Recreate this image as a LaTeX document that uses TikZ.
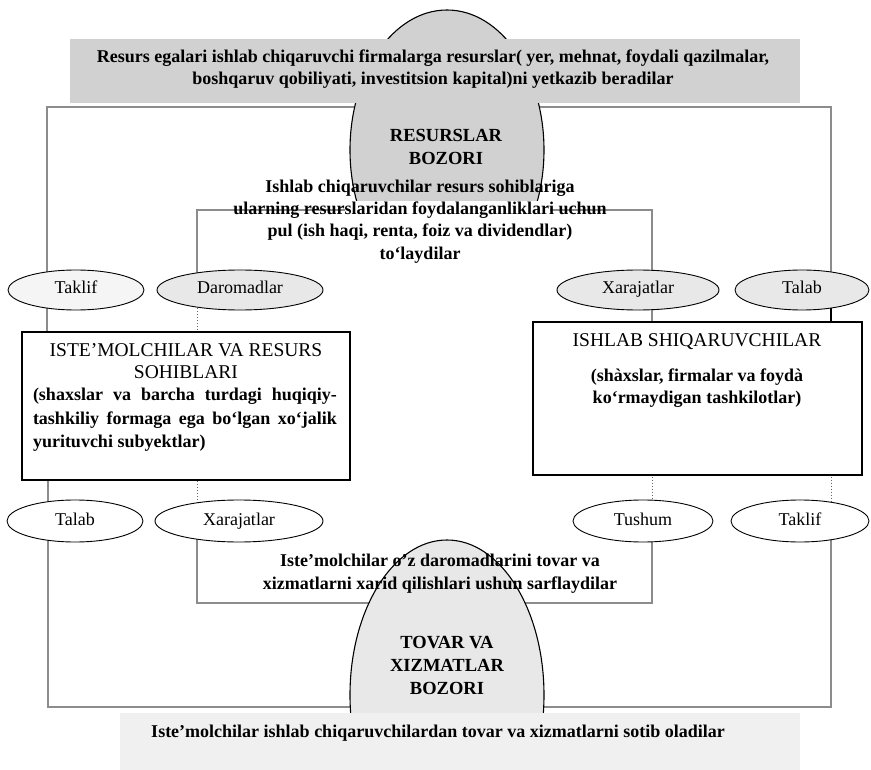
\documentclass[tikz,border=0pt]{standalone}
\usepackage{fontspec}
\setmainfont{Liberation Serif}
\usetikzlibrary{shapes.geometric}
\pgfdeclarelayer{lines}
\pgfdeclarelayer{shapes}
\pgfsetlayers{lines,shapes,main}
\tikzset{
  flow/.style={draw=black!45, line width=2pt},
  tick/.style={draw=black!60, line width=1pt, dotted},
  oval/.style={ellipse, draw=black, line width=0.9pt, inner sep=0pt, text height=12pt, text depth=4pt, font=\fontsize{18}{22}\selectfont},
  market/.style={ellipse, draw=black, line width=1.1pt, inner sep=0pt},
  band/.style={rectangle, draw=none, inner sep=0pt},
  agent/.style={rectangle, draw=black, line width=2.5pt, fill=white, inner sep=0pt},
  btxt/.style={font=\bfseries\fontsize{18}{22}\selectfont, align=center, inner sep=0pt},
  ttl/.style={font=\fontsize{19.5}{22}\selectfont, align=center, inner sep=0pt},
  mtxt/.style={font=\bfseries\fontsize{18.5}{22.5}\selectfont, align=center, inner sep=0pt},
}
\begin{document}
\begin{tikzpicture}[x=1pt,y=-1pt]
\useasboundingbox (0,0) rectangle (871,770);

% ---------- large shapes ----------
\begin{pgfonlayer}{shapes}
\node[market, fill=black!18, minimum width=194pt, minimum height=280pt] (resm) at (447,150) {};
\node[band, fill=black!18, minimum width=730pt, minimum height=64pt] (topband) at (435,71) {};
\fill[white] (345,201) rectangle (550,293);
\node[market, fill=black!9, minimum width=194pt, minimum height=310pt] (tovm) at (447,695) {};
\node[band, fill=black!6, minimum width=680pt, minimum height=57pt] (botband) at (460,741.5) {};
\end{pgfonlayer}

% ---------- texts ----------
\node[btxt] (toptext) at (433,69) {Resurs egalari ishlab chiqaruvchi firmalarga resurslar( yer, mehnat, foydali qazilmalar,\\boshqaruv qobiliyati, investitsion kapital)ni yetkazib beradilar};
\node[mtxt] (restxt) at (446,147) {RESURSLAR\\BOZORI};
\node[btxt, font=\bfseries\fontsize{18}{22.3}\selectfont] (paytxt) at (420,221.5) {Ishlab chiqaruvchilar resurs sohiblariga\\ularning resurslaridan foydalanganliklari uchun\\pul (ish haqi, renta, foiz va dividendlar)\\to‘laydilar};
\node[btxt, font=\bfseries\fontsize{18}{23}\selectfont] (spendtxt) at (440,573.5) {Iste'molchilar o'z daromadlarini tovar va\\xizmatlarni xarid qilishlari ushun sarflaydilar};
\node[mtxt, font=\bfseries\fontsize{18.5}{23}\selectfont] (tovtxt) at (447,665) {TOVAR VA\\XIZMATLAR\\BOZORI};
\node[btxt] (buytxt) at (438,733) {Iste'molchilar ishlab chiqaruvchilardan tovar va xizmatlarni sotib oladilar};

% ---------- agents ----------
\node[agent, minimum width=328pt, minimum height=148pt] (cons) at (186,406) {};
\node[ttl] (constitle) at (186,361) {ISTE'MOLCHILAR VA RESURS\\SOHIBLARI};
\node[font=\bfseries\fontsize{18}{23.5}\selectfont, text width=304pt, align=justify, inner sep=0pt] (conssub) at (185,420) {(shaxslar va barcha turdagi huqiqiy-\linebreak tashkiliy formaga ega bo‘lgan xo‘jalik\linebreak yurituvchi subyektlar)};

\node[agent, minimum width=329pt, minimum height=153pt] (prod) at (697.5,398.5) {};
\node[ttl] (prodtitle) at (697,342) {ISHLAB SHIQARUVCHILAR};
\node[btxt] (prodsub) at (697,388) {(shàxslar, firmalar va foydà\\ko‘rmaydigan tashkilotlar)};

% ---------- small ovals ----------
\node[oval, fill=black!4, minimum width=136pt, minimum height=40pt] (taklifA) at (76,290) {Taklif};
\node[oval, fill=black!9, minimum width=166pt, minimum height=40pt] (daromad) at (240,290) {Daromadlar};
\node[oval, fill=black!9, minimum width=162pt, minimum height=40pt] (xarajA) at (638,290) {Xarajatlar};
\node[oval, fill=black!9, minimum width=134pt, minimum height=40pt] (talabA) at (802,290) {Talab};

\node[oval, fill=white, minimum width=136pt, minimum height=42pt] (talabB) at (75,521) {Talab};
\node[oval, fill=white, minimum width=168pt, minimum height=42pt] (xarajB) at (239,521) {Xarajatlar};
\node[oval, fill=white, minimum width=140pt, minimum height=42pt] (tushum) at (643,521) {Tushum};
\node[oval, fill=white, minimum width=138pt, minimum height=42pt] (taklifB) at (800,521) {Taklif};

% ---------- loop corners ----------
\coordinate (otl) at (47,107);
\coordinate (otr) at (831,107);
\coordinate (itl) at (197,210);
\coordinate (itr) at (652,210);
\coordinate (ibl) at (197,603);
\coordinate (ibr) at (652,603);
\coordinate (obl) at (48,707);
\coordinate (obr) at (831,707);

% ---------- connectors ----------
\begin{pgfonlayer}{lines}
\fill[white] (0,0) rectangle (871,770);
\draw[flow] (otl |- taklifA) -- (otl) -- (otr) -- (otr |- talabA);
\draw[flow] (otl |- taklifA) -- (otl |- cons);
\draw[black, line width=1.2pt] (otr |- talabA) -- (otr |- prod);
\draw[flow] (itl |- daromad) -- (itl) -- (itr) -- (itr |- xarajA);
\draw[tick] (itl |- daromad) -- (itl |- cons);
\draw[flow] (itr |- xarajA) -- (itr |- prod);
\draw[flow] (obl |- cons) -- (obl |- talabB);
\draw[tick] (ibl |- cons) -- (ibl |- xarajB);
\draw[tick] (ibr |- prod) -- (ibr |- tushum);
\draw[tick] (obr |- prod) -- (obr |- taklifB);
\draw[flow] (ibl |- xarajB) -- (ibl) -- (ibr) -- (ibr |- tushum);
\draw[flow] (obl |- talabB) -- (obl) -- (obr) -- (obr |- taklifB);
\end{pgfonlayer}
\end{tikzpicture}
\end{document}
